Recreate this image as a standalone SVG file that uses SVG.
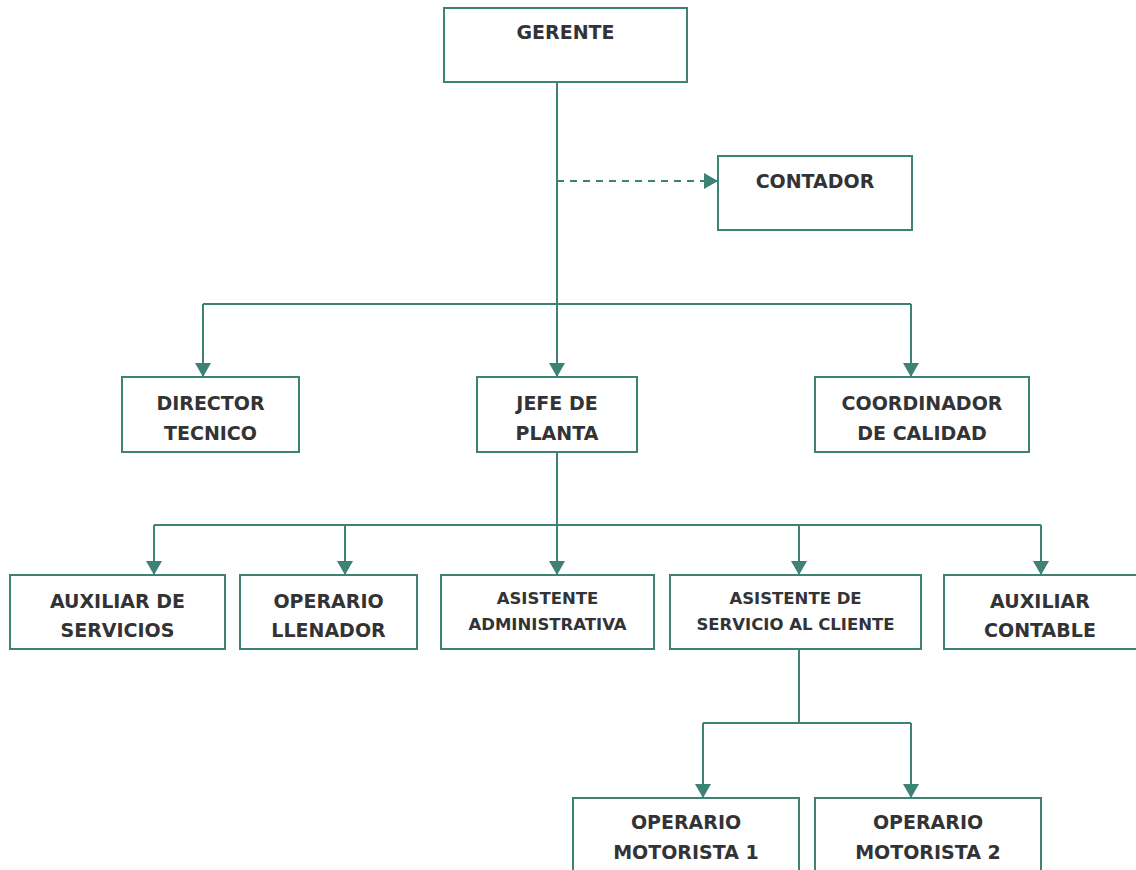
<svg xmlns="http://www.w3.org/2000/svg" width="1136" height="870" viewBox="0 0 1136 870">
<style>
.box{fill:#fff;stroke:#3d8275;stroke-width:2}
.t{font-family:"DejaVu Sans",Verdana,sans-serif;font-weight:bold;font-size:19px;fill:#333336;text-anchor:middle}
.s{font-size:16.5px}
.c{fill:none;stroke:#3d8275;stroke-width:2}
.d{stroke-dasharray:7 6}
</style>
<defs>
<marker id="ah" viewBox="0 0 14 16" refX="14" refY="8" markerWidth="14" markerHeight="16" markerUnits="userSpaceOnUse" orient="auto">
<path d="M0,0 L14,8 L0,16 Z" fill="#3d8275"/>
</marker>
</defs>
<rect width="1136" height="870" fill="#fff"/>
<g id="connectors">
<path class="c" d="M557,82 V377" marker-end="url(#ah)"/>
<path class="c d" d="M557,181 H718" marker-end="url(#ah)"/>
<path class="c" d="M203,304 H911"/>
<path class="c" d="M203,304 V377" marker-end="url(#ah)"/>
<path class="c" d="M911,304 V377" marker-end="url(#ah)"/>
<path class="c" d="M557,452 V575" marker-end="url(#ah)"/>
<path class="c" d="M154,525 H1041"/>
<path class="c" d="M154,525 V575" marker-end="url(#ah)"/>
<path class="c" d="M345,525 V575" marker-end="url(#ah)"/>
<path class="c" d="M799,525 V575" marker-end="url(#ah)"/>
<path class="c" d="M1041,525 V575" marker-end="url(#ah)"/>
<path class="c" d="M799,649 V723 M703,723 H911"/>
<path class="c" d="M703,723 V798" marker-end="url(#ah)"/>
<path class="c" d="M911,723 V798" marker-end="url(#ah)"/>
</g>
<g id="gerente"><rect class="box" x="444" y="8" width="243" height="74"/><text class="t" x="565.5" y="39">GERENTE</text></g>
<g id="contador"><rect class="box" x="718" y="156" width="194" height="74"/><text class="t" x="815" y="188">CONTADOR</text></g>
<g id="director"><rect class="box" x="122" y="377" width="177" height="75"/><text class="t" x="210.5" y="410">DIRECTOR</text><text class="t" x="210.5" y="440">TECNICO</text></g>
<g id="jefe"><rect class="box" x="477" y="377" width="160" height="75"/><text class="t" x="557" y="410">JEFE DE</text><text class="t" x="557" y="440">PLANTA</text></g>
<g id="coordinador"><rect class="box" x="815" y="377" width="214" height="75"/><text class="t" x="922" y="410">COORDINADOR</text><text class="t" x="922" y="440">DE CALIDAD</text></g>
<g id="aux-servicios"><rect class="box" x="10" y="575" width="215" height="74"/><text class="t" x="117.5" y="608">AUXILIAR DE</text><text class="t" x="117.5" y="637">SERVICIOS</text></g>
<g id="operario-llenador"><rect class="box" x="240" y="575" width="177" height="74"/><text class="t" x="328.5" y="608">OPERARIO</text><text class="t" x="328.5" y="637">LLENADOR</text></g>
<g id="asistente-admin"><rect class="box" x="441" y="575" width="213" height="74"/><text class="t s" x="547.5" y="604">ASISTENTE</text><text class="t s" x="547.5" y="630">ADMINISTRATIVA</text></g>
<g id="asistente-cliente"><rect class="box" x="670" y="575" width="251" height="74"/><text class="t s" x="795.5" y="604">ASISTENTE DE</text><text class="t s" x="795.5" y="630">SERVICIO AL CLIENTE</text></g>
<g id="aux-contable"><rect class="box" x="944" y="575" width="200" height="74"/><text class="t" x="1040" y="608">AUXILIAR</text><text class="t" x="1040" y="637">CONTABLE</text></g>
<g id="motorista1"><rect class="box" x="573" y="798" width="226" height="90"/><text class="t" x="686" y="829">OPERARIO</text><text class="t" x="686" y="859">MOTORISTA 1</text></g>
<g id="motorista2"><rect class="box" x="815" y="798" width="226" height="90"/><text class="t" x="928" y="829">OPERARIO</text><text class="t" x="928" y="859">MOTORISTA 2</text></g>
</svg>
